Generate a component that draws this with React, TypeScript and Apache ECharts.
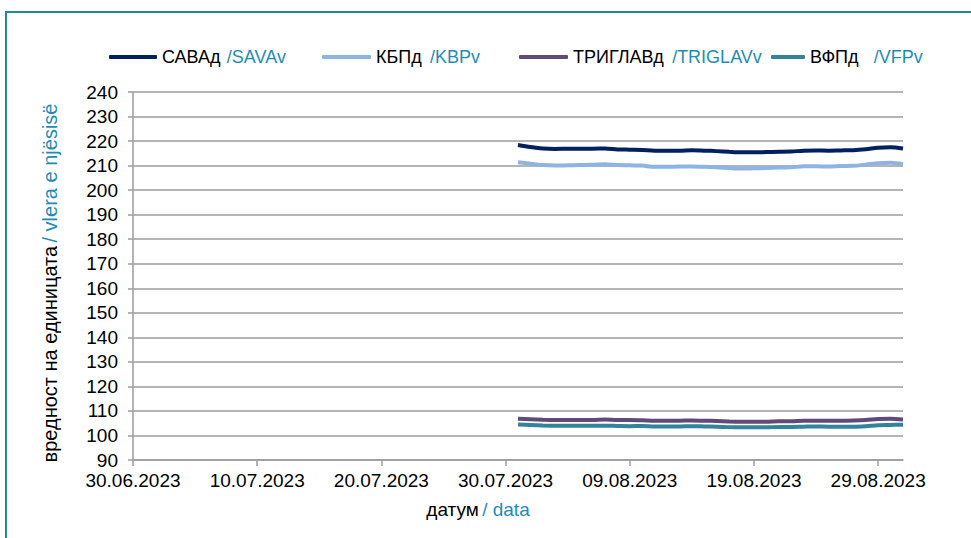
import React, { useEffect, useRef } from "react";
import * as echarts from "echarts";

const seriesNamesMk = ["САВАд", "КБПд", "ТРИГЛАВд", "ВФПд"];
const seriesNamesSq = ["/SAVAv", "/KBPv", "/TRIGLAVv", "/VFPv"];
const seriesColors = ["#002060", "#8DB4E2", "#604A7B", "#31849B"];

const axisStart = "2023-06-30";
const axisEnd = "2023-08-31";
const xTickDates = ["2023-06-30", "2023-07-10", "2023-07-20", "2023-07-30", "2023-08-09", "2023-08-19", "2023-08-29"];

const dates = [
  "2023-07-31", "2023-08-01", "2023-08-02", "2023-08-03", "2023-08-04", "2023-08-05", "2023-08-06", "2023-08-07",
  "2023-08-08", "2023-08-09", "2023-08-10", "2023-08-11", "2023-08-12", "2023-08-13", "2023-08-14", "2023-08-15",
  "2023-08-16", "2023-08-17", "2023-08-18", "2023-08-19", "2023-08-20", "2023-08-21", "2023-08-22", "2023-08-23",
  "2023-08-24", "2023-08-25", "2023-08-26", "2023-08-27", "2023-08-28", "2023-08-29", "2023-08-30", "2023-08-31",
];

const sava = [
  218.4, 217.6, 217.0, 216.8, 216.9, 216.9, 216.9, 217.0, 216.6, 216.5, 216.4, 216.1, 216.1, 216.1, 216.3, 216.1,
  215.9, 215.6, 215.4, 215.4, 215.5, 215.6, 215.7, 216.1, 216.2, 216.1, 216.2, 216.3, 216.7, 217.3, 217.5, 217.0,
];
const kbp = [
  211.4, 210.8, 210.2, 210.0, 210.1, 210.2, 210.3, 210.6, 210.2, 210.1, 210.0, 209.5, 209.5, 209.6, 209.6, 209.5,
  209.3, 209.0, 208.8, 208.9, 209.0, 209.2, 209.3, 209.7, 209.7, 209.6, 209.8, 209.9, 210.4, 211.0, 211.2, 210.6,
];
const triglav = [
  106.8, 106.6, 106.4, 106.3, 106.3, 106.3, 106.3, 106.5, 106.3, 106.3, 106.2, 106.0, 106.0, 106.0, 106.1, 106.0,
  105.9, 105.7, 105.6, 105.6, 105.6, 105.8, 105.8, 106.0, 106.0, 106.0, 106.0, 106.1, 106.3, 106.7, 106.8, 106.5,
];
const vfp = [
  104.5, 104.3, 104.1, 104.0, 104.0, 104.0, 104.0, 104.0, 103.9, 103.8, 103.9, 103.7, 103.7, 103.7, 103.8, 103.7,
  103.6, 103.4, 103.3, 103.3, 103.3, 103.5, 103.5, 103.6, 103.7, 103.6, 103.6, 103.6, 103.8, 104.2, 104.3, 104.4,
];
const allSeries = [sava, kbp, triglav, vfp];

const yMin = 90;
const yMax = 240;
const yStep = 10;

const FONT = "'Liberation Sans', Arial, sans-serif";
const TEAL = "#1F8DB3";
const GRID_GRAY = "#9C9C9C";

const DAY = 86400000;
function toUTC(s: string) {
  const [y, m, d] = s.split("-").map(Number);
  return Date.UTC(y, m - 1, d);
}
const base = toUTC(axisStart);
const dayOf = (s: string) => Math.round((toUTC(s) - base) / DAY);
function fmt(v: number) {
  const dt = new Date(base + v * DAY);
  const dd = String(dt.getUTCDate()).padStart(2, "0");
  const mm = String(dt.getUTCMonth() + 1).padStart(2, "0");
  return `${dd}.${mm}.${dt.getUTCFullYear()}`;
}

const legendLefts = [109, 322, 519, 771];
const legendWidths = [48, 49, 49, 34];
const legendSubGaps = [3, 5, 5, 12];

export default function App() {
  const ref = useRef<HTMLDivElement>(null);
  useEffect(() => {
    if (!ref.current) return;
    const chart = echarts.init(ref.current, undefined, { renderer: "svg" });
    const tickVals = xTickDates.map(dayOf);
    const legends = seriesNamesMk.map((n, i) => ({
      show: true,
      left: legendLefts[i],
      top: 48,
      data: [n],
      icon: "roundRect",
      itemWidth: legendWidths[i],
      itemHeight: 4,
      itemGap: 4,
      padding: 0,
      selectedMode: false,
      formatter: (name: string) => `{a|${name}} {b|${seriesNamesSq[i]}}`,
      textStyle: {
        rich: {
          a: { fontFamily: FONT, fontSize: 18, color: "#000" },
          b: { fontFamily: FONT, fontSize: 18, color: TEAL, padding: [0, 0, 0, legendSubGaps[i]] },
        },
      },
    }));
    chart.setOption({
      animation: false,
      backgroundColor: "#fff",
      graphic: [
        {
          type: "rect",
          shape: { x: 6, y: 12, width: 1000, height: 560 },
          style: { fill: "none", stroke: "#1E88A8", lineWidth: 2 },
          silent: true,
        },
      ],
      legend: legends,
      grid: { left: 133, right: 68, top: 92, bottom: 78 },
      xAxis: {
        type: "value",
        min: dayOf(axisStart),
        max: dayOf(axisEnd),
        interval: 10,
        name: "{a|датум} {b|/ data}",
        nameLocation: "middle",
        nameGap: 40,
        nameTextStyle: {
          padding: [0, 80, 0, 0],
          rich: {
            a: { fontFamily: FONT, fontSize: 19, color: "#000" },
            b: { fontFamily: FONT, fontSize: 19, color: TEAL },
          },
        },
        splitLine: { show: false },
        axisLine: { show: true, lineStyle: { color: GRID_GRAY, width: 1.5 } },
        axisTick: { show: true, length: 6, customValues: tickVals, lineStyle: { color: GRID_GRAY, width: 1.5 } },
        axisLabel: {
          customValues: tickVals,
          formatter: (v: number) => fmt(v),
          fontFamily: FONT,
          fontSize: 19,
          color: "#000",
          margin: 11,
        },
      },
      yAxis: {
        type: "value",
        min: yMin,
        max: yMax,
        interval: yStep,
        name: "{a|вредност на единицата} {b|/ vlera e njësisë}",
        nameLocation: "middle",
        nameRotate: 90,
        nameGap: 73,
        nameTextStyle: {
          padding: [0, 14, 0, 0],
          rich: {
            a: { fontFamily: FONT, fontSize: 20, color: "#000" },
            b: { fontFamily: FONT, fontSize: 20, color: TEAL },
          },
        },
        axisLine: { show: true, lineStyle: { color: GRID_GRAY, width: 1.5 } },
        axisTick: { show: true, length: 5, lineStyle: { color: GRID_GRAY, width: 1.5 } },
        splitLine: { show: true, lineStyle: { color: GRID_GRAY, width: 1.5 } },
        axisLabel: { fontFamily: FONT, fontSize: 19, color: "#000", margin: 15 },
      },
      series: seriesNamesMk.map((n, i) => ({
        name: n,
        type: "line",
        data: dates.map((d, k) => [dayOf(d), allSeries[i][k]]),
        showSymbol: false,
        symbol: "none",
        smooth: 0.3,
        lineStyle: { color: seriesColors[i], width: 4 },
        itemStyle: { color: seriesColors[i] },
      })),
    });
    return () => chart.dispose();
  }, []);
  return <div ref={ref} style={{ position: "fixed", left: 0, top: 0, width: 971, height: 538 }} />;
}
